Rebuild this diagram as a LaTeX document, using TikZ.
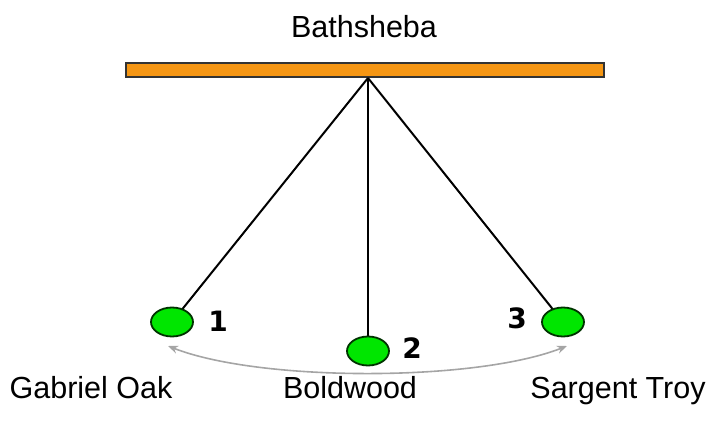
\documentclass[tikz,border=0pt]{standalone}
\usepackage{fontspec}
\setmainfont{Liberation Sans}
\newfontfamily\digitfont{DejaVu Sans}
\usetikzlibrary{arrows.meta,shapes.geometric}
\definecolor{barorange}{RGB}{245,150,20}
\definecolor{ballgreen}{RGB}{0,230,0}
\definecolor{arcgray}{RGB}{165,165,165}
\begin{document}
\begin{tikzpicture}[x=1pt,y=-1pt,
  lbl/.style={font=\fontsize{30.5}{34}\selectfont, inner sep=0pt, anchor=base},
  num/.style={font=\digitfont\fontsize{28}{30}\selectfont\bfseries, inner sep=0pt},
  ball/.style={ellipse, draw=black!80!green, line width=1.8pt, fill=ballgreen, minimum width=42pt, minimum height=29pt, inner sep=0pt},
  string/.style={line width=2pt, black},
  swing/.style={arcgray, line width=1.6pt, {Stealth[length=10pt,width=8pt]}-{Stealth[length=10pt,width=8pt]}}]
\useasboundingbox (0,0) rectangle (712,430);
\node[draw=black!80, line width=2pt, fill=barorange, minimum width=478pt, minimum height=14pt, inner sep=0pt] (bar) at (365,70.5) {};
\coordinate (pivot) at (368,78);
\node[lbl] (top) at (364,38) {Bathsheba};
\draw[string] (pivot) -- (172,322);
\draw[string] (pivot) -- (368,351);
\draw[string] (pivot) -- (563,322);
\node[ball] (b1) at (172,322) {};
\node[ball] (b2) at (368,351) {};
\node[ball] (b3) at (563,322) {};
\node[num] (n1) at (218,321) {1};
\node[num] (n2) at (412,348) {2};
\node[num] (n3) at (517,318) {3};
\coordinate (aL) at (168,346);
\coordinate (aR) at (567,346);
\draw[swing] (aL) .. controls (260,382) and (475,382) .. (aR);
\node[lbl] (g) at (91,398) {Gabriel Oak};
\node[lbl] (bw) at (350,398) {Boldwood};
\node[lbl] (st) at (618,398) {Sargent Troy};
\end{tikzpicture}
\end{document}
